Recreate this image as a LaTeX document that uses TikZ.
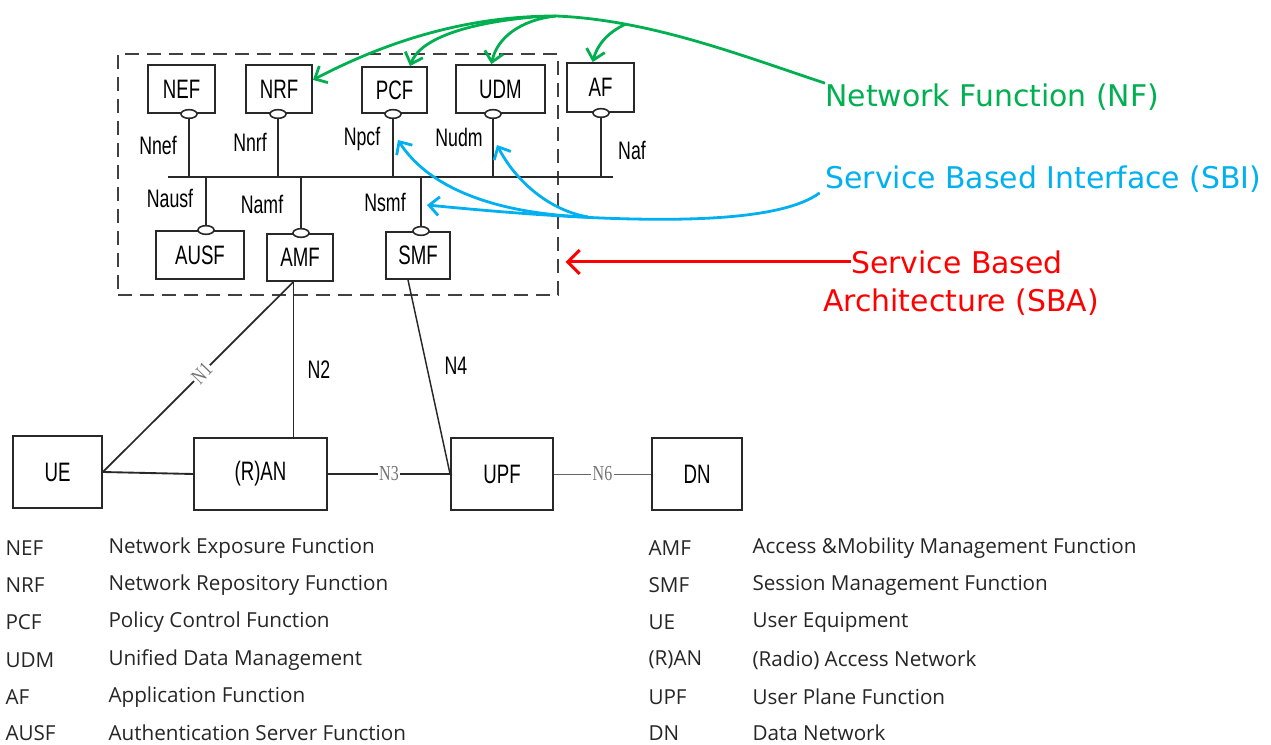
\documentclass[tikz,border=0pt]{standalone}
\usepackage{fontspec}
\setmainfont{Open Sans}
\newfontfamily\condfont[FakeStretch=0.7]{Liberation Sans}
\newfontfamily\condserif[FakeStretch=0.75]{Liberation Serif}
\newfontfamily\calloutfont{DejaVu Sans}
\usetikzlibrary{shapes.geometric,arrows.meta}

\definecolor{nfgreen}{RGB}{0,176,80}
\definecolor{sbiblue}{RGB}{0,176,240}
\definecolor{sbared}{RGB}{255,0,0}
\definecolor{boxgray}{RGB}{40,40,40}

\tikzset{every picture/.style={line width=0.75pt}}
\tikzset{
  nfbox/.style={draw=boxgray, line width=1.4pt, inner sep=0pt, minimum height=36pt, font=\condfont\fontsize{20}{22}\selectfont},
  nodebox/.style={draw=boxgray, line width=1.4pt, inner sep=0pt, minimum height=54pt, font=\condfont\fontsize{20}{22}\selectfont},
  port/.style={ellipse, draw=boxgray, fill=white, line width=1.2pt, inner sep=0pt, minimum width=12pt, minimum height=6.5pt},
  ifname/.style={inner sep=0pt, font=\condfont\fontsize{19}{21}\selectfont},
  refname/.style={inner sep=1pt, fill=white, text=black!55, font=\condserif\fontsize{16}{18}\selectfont},
  legend/.style={anchor=west, inner sep=0pt, text=black!85, font=\fontsize{15.5}{18}\selectfont},
  callout/.style={anchor=west, inner sep=0pt, font=\calloutfont\fontsize{22.4}{27}\selectfont},
  sbaframe/.style={draw=black!75, line width=1.4pt, dash pattern=on 10.5pt off 6pt, minimum width=330pt, minimum height=180.75pt},
  nfline/.style={draw=nfgreen, line width=2.1pt, -{Straight Barb[length=7.5pt,width=14pt]}},
  sbiline/.style={draw=sbiblue, line width=2.1pt, -{Straight Barb[length=7.5pt,width=14pt]}},
  sbaline/.style={draw=sbared, line width=2.25pt, -{Straight Barb[length=9pt,width=18pt]}}
}

\begin{document}
\begin{tikzpicture}[x=0.75pt,y=0.75pt,yscale=-1]
	\useasboundingbox (0,0) rectangle (1271,745);
	
	%Shape: Rectangle [dashed frame of the SBA]
	\node[sbaframe] (sba) at (338,174.5) {};
	
	%Shape: Rectangle [network functions]
	\node[nfbox, minimum width=50pt] (nef) at (181.5,89) {NEF};
	\node[nfbox, minimum width=49.5pt] (nrf) at (279,89) {NRF};
	\node[nfbox, minimum width=48.75pt, minimum height=34.5pt] (pcf) at (394.5,90) {PCF};
	\node[nfbox, minimum width=66.75pt] (udm) at (500.5,89) {UDM};
	\node[nfbox, minimum width=50.25pt, minimum height=36.75pt] (af) at (600.5,87.5) {AF};
	\node[nfbox, minimum width=66pt] (ausf) at (200,255) {AUSF};
	\node[nfbox, minimum width=49.5pt, minimum height=35.25pt] (amf) at (300,257.5) {AMF};
	\node[nfbox, minimum width=48pt, minimum height=35.25pt] (smf) at (418,255.5) {SMF};
	
	%Straight Lines [service bus]
	\coordinate (busw) at (168,177);
	\coordinate (buse) at (613,177);
	\draw[line width=1.4pt, boxgray] (busw) -- (buse);
	
	%Shape: Ellipse [service ports]
	\node[port] (pnef) at (189,114) {};
	\node[port] (pnrf) at (278,114) {};
	\node[port] (ppcf) at (393,114) {};
	\node[port] (pudm) at (493,114) {};
	\node[port] (paf) at (601,113) {};
	\node[port] (pausf) at (206,230) {};
	\node[port] (pamf) at (301,233) {};
	\node[port] (psmf) at (421,231) {};
	
	%Straight Lines [ports to bus]
	\draw[line width=1.2pt, boxgray] (pnef.south) -- (pnef.south |- busw);
	\draw[line width=1.2pt, boxgray] (pnrf.south) -- (pnrf.south |- busw);
	\draw[line width=1.2pt, boxgray] (ppcf.south) -- (ppcf.south |- busw);
	\draw[line width=1.2pt, boxgray] (pudm.south) -- (pudm.south |- busw);
	\draw[line width=1.2pt, boxgray] (paf.south) -- (paf.south |- busw);
	\draw[line width=1.2pt, boxgray] (pausf.north) -- (pausf.north |- busw);
	\draw[line width=1.2pt, boxgray] (pamf.north) -- (pamf.north |- busw);
	\draw[line width=1.2pt, boxgray] (psmf.north) -- (psmf.north |- busw);
	
	% Text Node
	\node[ifname] (inef) at (158,145) {Nnef};
	\node[ifname] (inrf) at (250,142) {Nnrf};
	\node[ifname] (ipcf) at (362,139) {Npcf};
	\node[ifname] (iudm) at (459,137) {Nudm};
	\node[ifname] (iaf) at (632,150) {Naf};
	\node[ifname] (iausf) at (170,198) {Nausf};
	\node[ifname] (iamf) at (262,204) {Namf};
	\node[ifname] (ismf) at (385,202) {Nsmf};
	
	%Shape: Rectangle [access and user plane]
	\node[nodebox, minimum width=66.75pt] (ue) at (57.5,472) {UE};
	\node[nodebox, minimum width=99.75pt] (ran) at (260.5,474) {(R)AN};
	\node[nodebox, minimum width=76.5pt] (upf) at (502,474) {UPF};
	\node[nodebox, minimum width=67.5pt] (dn) at (697,474) {DN};
	
	%Straight Lines [reference points]
	\coordinate (amfb) at ([xshift=-5pt]amf.south);
	\coordinate (smfb) at ([xshift=-7.5pt]smf.south);
	\draw[line width=1.3pt, boxgray] (ue.east) -- node[refname, rotate=46, pos=0.52] (ln1) {N1} (amfb);
	\draw[line width=0.9pt, boxgray] (amfb) -- (amfb |- ran.north);
	\draw[line width=1.4pt, boxgray] (ue.east) -- (ran.west);
	\draw[line width=1.8pt, boxgray] (ran.east) -- node[refname] (ln3) {N3} (upf.west);
	\draw[line width=1.1pt, boxgray] (smfb) -- (upf.west);
	\draw[line width=0.7pt, black!60] (upf.east) -- node[refname] (ln6) {N6} (dn.west);
	
	% Text Node
	\node[ifname] (ln2) at (319,370) {N2};
	\node[ifname] (ln4) at (456,366) {N4};
	
	% Text Node [callouts]
	\node[callout, text=nfgreen] (nf) at (825,97) {Network Function (NF)};
	\node[callout, text=sbiblue] (sbi) at (825,179) {Service Based Interface (SBI)};
	\node[callout, text=sbared, anchor=center] (sba1) at (957,262) {Service Based};
	\node[callout, text=sbared, anchor=center] (sba2) at (961,302) {Architecture (SBA)};
	
	%Curve Lines [network function arrows]
	\coordinate (nfpeak) at (556,16);
	\coordinate (nfsplit) at (626,24);
	\draw[nfline] (nf.north west) .. controls (740,55) and (650,20) .. (nfpeak) .. controls (460,16) and (380,45) .. (nrf.15);
	\draw[nfline] (540,16.5) .. controls (470,22) and (420,38) .. (pcf.57);
	\draw[nfline] (nfpeak) .. controls (520,20) and (497,38) .. (udm.110);
	\draw[nfline] (nfsplit) .. controls (608,32) and (597,45) .. (af.107);
	
	%Curve Lines [service based interface arrows]
	\coordinate (sbisplit) at (588,217);
	\coordinate (tipsmf) at (427,205);
	\coordinate (tippcf) at (398,140);
	\coordinate (tipudm) at (497,145);
	\draw[sbiline] ([xshift=-4pt]sbi.south west) .. controls (770,230) and (600,222) .. (tipsmf);
	\draw[sbiline] (sbisplit) .. controls (500,214) and (430,190) .. (tippcf);
	\draw[sbiline] (sbisplit) .. controls (548,210) and (515,180) .. (tipudm);
	
	%Straight Lines [architecture arrow]
	\draw[sbaline, shorten >=5pt] (sba1.west) -- (sba.east |- sba1.west);
	
	% Text Node [legend]
	\node[legend] (knef) at (5,548) {NEF};
	\node[legend] (dnef) at (108,548) {Network Exposure Function};
	\node[legend] (knrf) at (5,585) {NRF};
	\node[legend] (dnrf) at (108,585) {Network Repository Function};
	\node[legend] (kpcf) at (5,622) {PCF};
	\node[legend] (dpcf) at (108,622) {Policy Control Function};
	\node[legend] (kudm) at (5,660) {UDM};
	\node[legend] (dudm) at (108,660) {Unified Data Management};
	\node[legend] (kaf) at (5,697) {AF};
	\node[legend] (daf) at (108,697) {Application Function};
	\node[legend] (kausf) at (5,733) {AUSF};
	\node[legend] (dausf) at (108,733) {Authentication Server Function};
	\node[legend] (kamf) at (648,548) {AMF};
	\node[legend] (damf) at (752,548) {Access \&Mobility Management Function};
	\node[legend] (ksmf) at (648,585) {SMF};
	\node[legend] (dsmf) at (752,585) {Session Management Function};
	\node[legend] (kue) at (648,622) {UE};
	\node[legend] (due) at (752,622) {User Equipment};
	\node[legend] (kran) at (648,660) {(R)AN};
	\node[legend] (dran) at (752,660) {(Radio) Access Network};
	\node[legend] (kupf) at (648,697) {UPF};
	\node[legend] (dupf) at (752,697) {User Plane Function};
	\node[legend] (kdn) at (648,733) {DN};
	\node[legend] (ddn) at (752,733) {Data Network};
	
\end{tikzpicture}
\end{document}
